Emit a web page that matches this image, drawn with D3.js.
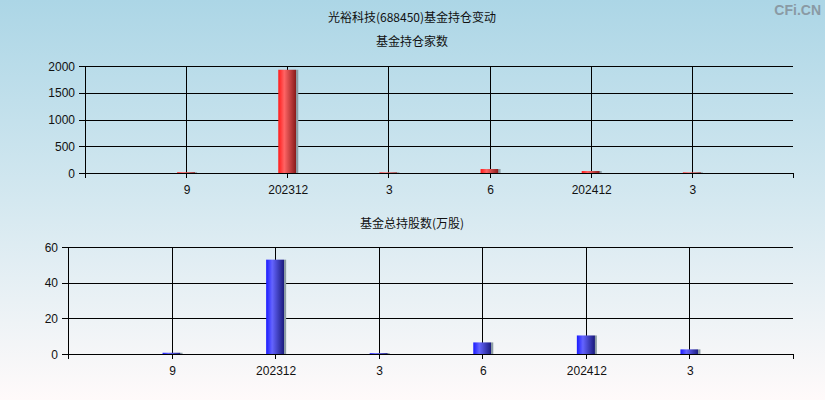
<!DOCTYPE html>
<html><head><meta charset="utf-8">
<script src="https://cdn.jsdelivr.net/npm/d3@7/dist/d3.min.js"></script>
<style>body{margin:0;padding:0;overflow:hidden}svg{display:block}</style>
</head><body>
<script>
const categories = ["9", "202312", "3", "6", "202412", "3"];
const fundCount = [15, 1930, 12, 75, 37, 12];
const fundShares = [0.7, 52.9, 0.5, 6.5, 10.4, 2.6];
const countTicks = [0, 500, 1000, 1500, 2000];
const shareTicks = [0, 20, 40, 60];

const W = 825, H = 400;
const svg = d3.select("body").append("svg").attr("width", W).attr("height", H);
const defs = svg.append("defs");
const bg = defs.append("linearGradient").attr("id", "bg").attr("x1", 0).attr("y1", 0).attr("x2", 0).attr("y2", 1);
bg.append("stop").attr("offset", 0).attr("stop-color", "#acd6e6");
bg.append("stop").attr("offset", 0.5).attr("stop-color", "#d4e8f0");
bg.append("stop").attr("offset", 1).attr("stop-color", "#fffafa");
svg.append("rect").attr("width", W).attr("height", H).attr("fill", "url(#bg)");

function barGrad(id, c0, c1, c2, edge) {
  const g = defs.append("linearGradient").attr("id", id).attr("x1", 0).attr("y1", 0).attr("x2", 1).attr("y2", 0);
  g.append("stop").attr("offset", 0).attr("stop-color", c0);
  g.append("stop").attr("offset", 0.3).attr("stop-color", c1);
  g.append("stop").attr("offset", 0.88).attr("stop-color", c2);
  g.append("stop").attr("offset", 0.9).attr("stop-color", edge);
  g.append("stop").attr("offset", 1).attr("stop-color", edge);
}
barGrad("red", "#ff1a1a", "#ff6464", "#8a1c1c", "#8c9ca4");
barGrad("blue", "#1a1aff", "#6464ff", "#1c1c80", "#8c9ca4");

const cjk = "'Noto Sans CJK SC', sans-serif";
const num = "'Liberation Sans', Arial, sans-serif";

svg.append("text").attr("x", 412).attr("y", 22).attr("text-anchor", "middle")
  .attr("font-family", cjk).attr("font-size", 12).attr("fill", "#111").text("光裕科技(688450)基金持仓变动");
svg.append("text").attr("x", 821).attr("y", 15).attr("text-anchor", "end")
  .attr("font-family", num).attr("font-weight", "bold").attr("font-size", 14).attr("fill", "#8a9aa4").text("CFi.CN");

function panel(opt) {
  const {left, right, top, bottom, values, ticks, ymax, grad, title, titleY} = opt;
  const x = d3.scaleLinear().domain([0, categories.length + 1]).range([left, right]);
  const y = d3.scaleLinear().domain([0, ymax]).range([bottom, top]);
  const g = svg.append("g");
  g.append("text").attr("x", 412).attr("y", titleY).attr("text-anchor", "middle")
    .attr("font-family", cjk).attr("font-size", 12).attr("fill", "#111").text(title);
  // horizontal grid
  g.selectAll(".h").data(ticks).enter().append("line")
    .attr("x1", left - 6).attr("x2", right).attr("y1", d => Math.round(y(d)) + 0.5).attr("y2", d => Math.round(y(d)) + 0.5)
    .attr("stroke", "#000").attr("stroke-width", 1);
  // vertical grid at categories
  g.selectAll(".v").data(categories).enter().append("line")
    .attr("x1", (d, i) => Math.round(x(i + 1)) + 0.5).attr("x2", (d, i) => Math.round(x(i + 1)) + 0.5)
    .attr("y1", top).attr("y2", bottom + 5).attr("stroke", "#000");
  // left axis
  g.append("line").attr("x1", left + 0.5).attr("x2", left + 0.5).attr("y1", top).attr("y2", bottom + 5).attr("stroke", "#000");
  // right end tick
  g.append("line").attr("x1", right + 0.5).attr("x2", right + 0.5).attr("y1", Math.round(y(0))).attr("y2", bottom + 5).attr("stroke", "#000");
  // y labels
  g.selectAll(".yl").data(ticks).enter().append("text")
    .attr("x", left - 10).attr("y", d => y(d) + 4.5).attr("text-anchor", "end")
    .attr("font-family", num).attr("font-size", 12).attr("fill", "#111").text(d => d);
  // bars
  const bw = 20;
  g.selectAll(".bar").data(values).enter().append("rect")
    .attr("x", (d, i) => x(i + 1) - bw / 2 + 1).attr("width", bw)
    .attr("y", d => y(d)).attr("height", d => Math.max(0, y(0) - y(d)))
    .attr("fill", `url(#${grad})`);
  // redraw baseline over bars
  g.append("line").attr("x1", left - 6).attr("x2", right).attr("y1", Math.round(y(0)) + 0.5).attr("y2", Math.round(y(0)) + 0.5).attr("stroke", "#000");
  // x labels
  g.selectAll(".xl").data(categories).enter().append("text")
    .attr("x", (d, i) => x(i + 1) + 1).attr("y", bottom + 21).attr("text-anchor", "middle")
    .attr("font-family", num).attr("font-size", 12).attr("fill", "#111").text(d => d);
}

panel({left: 85, right: 793, top: 66, bottom: 173, values: fundCount, ticks: countTicks, ymax: 2000,
  grad: "red", title: "基金持仓家数", titleY: 46});
panel({left: 68, right: 793, top: 247, bottom: 354, values: fundShares, ticks: shareTicks, ymax: 60,
  grad: "blue", title: "基金总持股数(万股)", titleY: 228});
</script>
</body></html>
